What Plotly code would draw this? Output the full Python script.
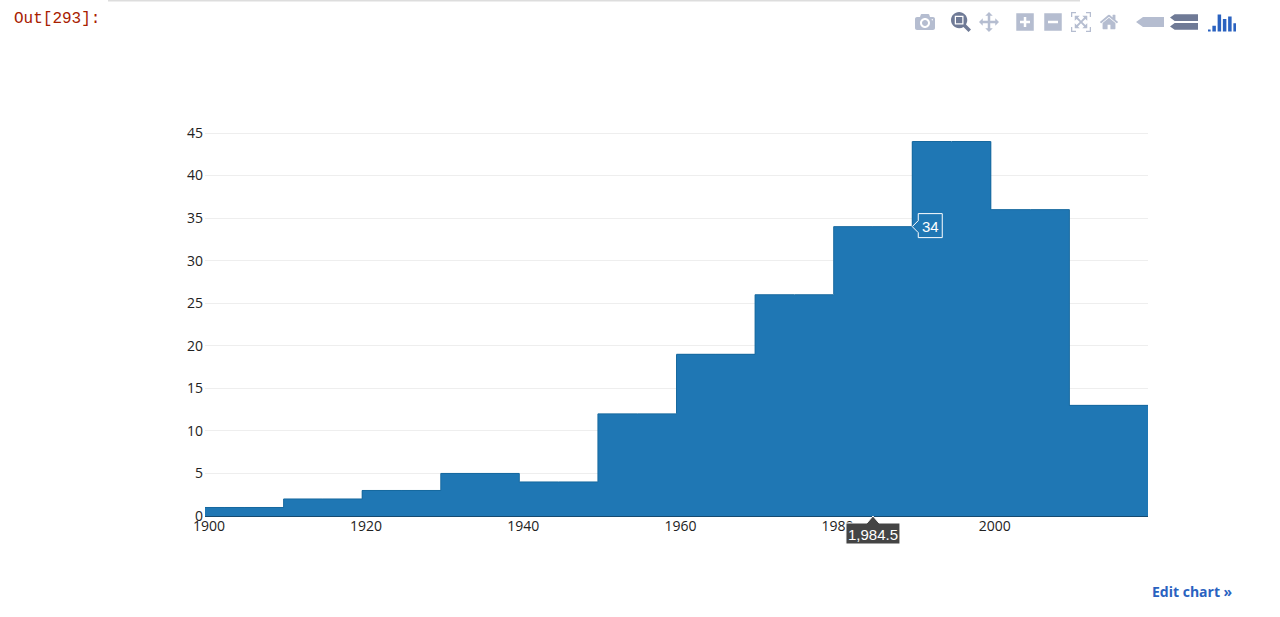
import json
import plotly.graph_objects as go

bin_centers = [1904.5, 1914.5, 1924.5, 1934.5, 1944.5, 1954.5, 1964.5, 1974.5, 1984.5, 1994.5, 2004.5, 2014.5]
counts = [1, 2, 3, 5, 4, 12, 19, 26, 34, 44, 36, 13]
bin_width = 10
x_ticks = [1900, 1920, 1940, 1960, 1980, 2000]
y_ticks = [0, 5, 10, 15, 20, 25, 30, 35, 40, 45]
hover_x = 1984.5
hover_x_label = "1,984.5"
hover_y_label = "34"
hover_y = 34
hover_edge = 1989.5
prompt = "Out[293]:"
edit_link = "Edit chart »"

W, H = 1240, 617
L, R, T, B = 205, 92, 122, 101
BLUE = "#1f77b4"
EDGE = "#17699f"

def px(v):
    return (v - L) / (W - L - R)

def py(v):
    return (H - B - v) / (H - T - B)

fig = go.Figure(go.Bar(
    x=bin_centers, y=counts, width=bin_width,
    marker=dict(color=BLUE, line=dict(color=BLUE, width=0)),
))
# darker outline of the histogram's silhouette
fig.add_trace(go.Scatter(
    x=[bin_centers[0] - bin_width / 2] + bin_centers + [bin_centers[-1] + bin_width / 2],
    y=[counts[0]] + counts + [counts[-1]],
    mode="lines", line=dict(color=EDGE, width=1, shape="hvh"), hoverinfo="skip",
))

fig.update_layout(
    width=W, height=H, autosize=False,
    margin=dict(l=L, r=R, t=T, b=B, pad=0),
    paper_bgcolor="white", plot_bgcolor="white",
    showlegend=False, bargap=0, hovermode="x", dragmode="zoom",
    font=dict(family="Open Sans", size=14, color="#222"),
    modebar=dict(bgcolor="rgba(0,0,0,0)", color="#b5bdd0", activecolor="#6f7a96"),
    xaxis=dict(range=[1899.5, 2019.5], tickvals=x_ticks, showgrid=False, zeroline=False,
               ticklen=0, showline=False, tickformat="d"),
    yaxis=dict(range=[0, 45 * 394 / 383], tickvals=y_ticks, gridcolor="#eeeeee",
               gridwidth=1, zeroline=True, zerolinecolor="#154a70", zerolinewidth=1, ticklen=0,
               ticklabelstandoff=1),
)

shapes = [
    dict(type="line", xref="paper", yref="paper", x0=px(108), x1=px(1080), y0=py(0.5), y1=py(0.5),
         line=dict(color="#dddddd", width=2)),
    # y hover label
    dict(type="path", xref="x", yref="y", xsizemode="pixel", ysizemode="pixel",
         xanchor=hover_edge, yanchor=hover_y,
         path="M 0 0 L 6 6 L 6 13 L 30 13 L 30 -11 L 6 -11 L 6 -6 Z",
         fillcolor=BLUE, line=dict(color="white", width=1), layer="above"),
    # x hover label
    dict(type="path", xref="x", yref="paper", xsizemode="pixel", ysizemode="pixel",
         xanchor=hover_x, yanchor=0,
         path="M 0 0 L 6 -7 L 27 -7 L 27 -28 L -27 -28 L -27 -7 L -6 -7 Z",
         fillcolor="#444444", line=dict(color="white", width=1), layer="above"),
]
fig.update_layout(shapes=shapes)

HOVER_FONT = dict(family="Liberation Sans", size=15, color="white")
fig.add_annotation(x=hover_edge, y=hover_y, xref="x", yref="y", text=hover_y_label, showarrow=False,
                   xanchor="center", yanchor="middle", xshift=18, yshift=0, font=HOVER_FONT)
fig.add_annotation(x=hover_x, y=0, xref="x", yref="paper", text=hover_x_label, showarrow=False,
                   xanchor="center", yanchor="middle", yshift=-18, font=HOVER_FONT)
fig.add_annotation(x=px(12), y=py(19), xref="paper", yref="paper", text=prompt, showarrow=False,
                   xanchor="left", yanchor="middle",
                   font=dict(family="Liberation Mono", size=16, color="#a82000"))
fig.add_annotation(x=px(1235), y=py(591), xref="paper", yref="paper", text="<b>" + edit_link + "</b>",
                   showarrow=False, xanchor="right", yanchor="middle",
                   font=dict(family="Open Sans", size=14, color="#2a62c0"))

logo_icon = dict(width=32, height=32, ascent=32, descent=0, transform="matrix(1 0 0 1 0 0)",
                 path="M0 28h3v3H0z M5 22h4v9H5z M11 4h4v27h-4z M17 11h4v20h-4z M23 7h4v24h-4z M29 18h3v13h-3z")

button_groups = [
    ["toImage"],
    ["zoom2d", "pan2d"],
    ["zoomIn2d", "zoomOut2d", "autoScale2d", "resetScale2d"],
    ["hoverClosestCartesian", "hoverCompareCartesian"],
]

config = dict(displayModeBar=True, modeBarButtons=button_groups, displaylogo=False)

post = """
document.documentElement.style.overflow='hidden';
document.body.style.margin='0';
document.body.style.overflow='hidden';
var s=document.createElement('style');
s.textContent=`
.modebar-container{top:6px !important;}
.modebar-btn{font-size:20px !important;height:28px !important;padding:3px 4px !important;}
.modebar-btn[data-attr="hovermode"] svg,.modebar-btn[data-title="Plotly"] svg{transform:scaleX(1.4);}
.modebar-btn[data-val="closest"]{padding-left:9px !important;}
.modebar-btn[data-val="x"]{padding-left:10px !important;}
.modebar-btn[data-title="Plotly"]{padding-left:6px !important;padding-right:6px !important;}
.modebar-btn[data-title="Plotly"] path{fill:#2a62c0 !important;}
`;
document.head.appendChild(s);
var gd=document.getElementById('{plot_id}');
var groups=gd._context.modeBarButtons.concat([[{name:'Plotly',icon:LOGO_ICON,click:function(){}}]]);
Plotly.newPlot(gd, gd.data, gd.layout, Object.assign({}, gd._context, {modeBarButtons:groups}));
""".replace("LOGO_ICON", json.dumps(logo_icon))

fig.write_html("out.html", config=config, post_script=post)
